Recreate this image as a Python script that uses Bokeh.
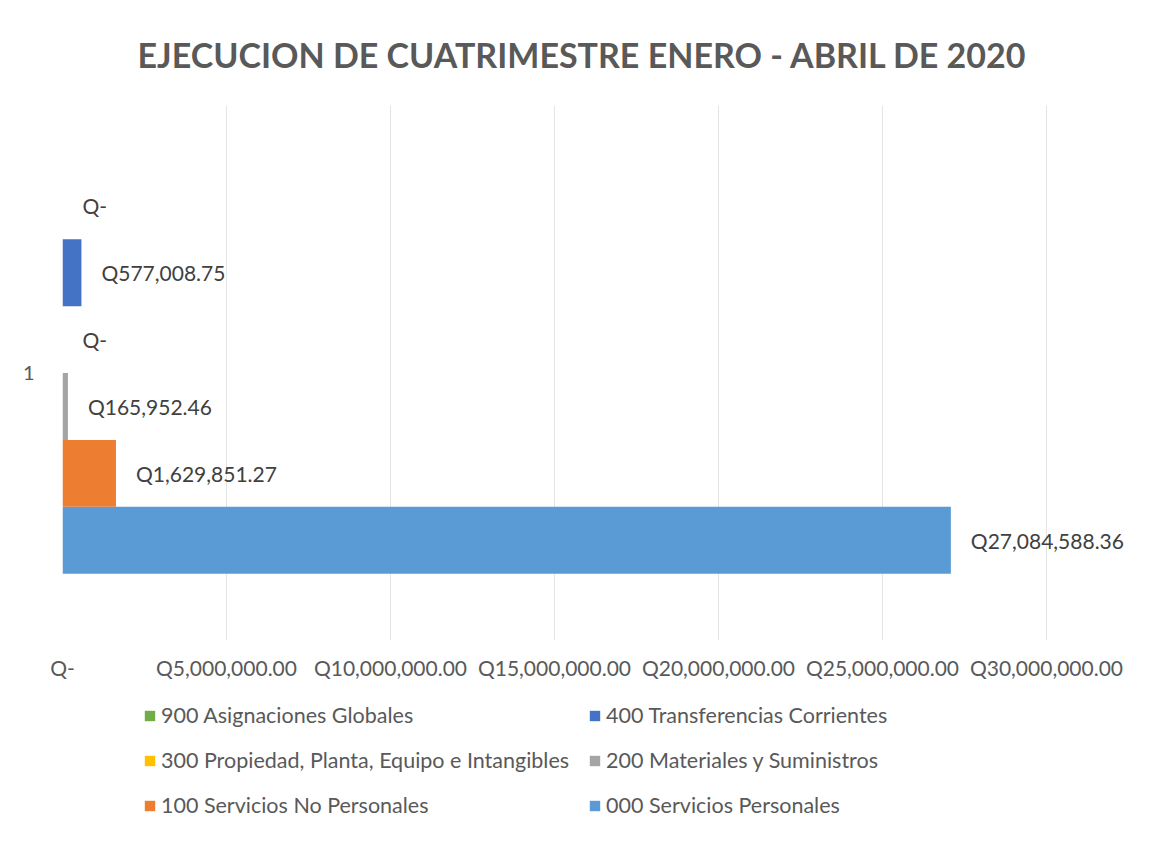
from bokeh.plotting import figure
from bokeh.models import (ColumnDataSource, FactorRange, FixedTicker, Legend, LegendItem,
                          Title, Range1d, LabelSet)
from bokeh.layouts import column
from bokeh.transform import dodge
from bokeh.core.properties import value
from bokeh.embed import file_html
from bokeh.resources import INLINE

title_text = "EJECUCION DE CUATRIMESTRE ENERO - ABRIL DE 2020"
category = ["1"]
series_names = ["000 Servicios Personales", "100 Servicios No Personales",
                "200 Materiales y Suministros", "300 Propiedad, Planta, Equipo e Intangibles",
                "400 Transferencias Corrientes", "900 Asignaciones Globales"]
series_values = [27084588.36, 1629851.27, 165952.46, 0.0, 577008.75, 0.0]
series_colors = ["#5B9BD5", "#ED7D31", "#A5A5A5", "#FFC000", "#4472C4", "#70AD47"]
x_ticks = [0, 5000000, 10000000, 15000000, 20000000, 25000000, 30000000]
x_tick_labels = ["Q-", "Q5,000,000.00", "Q10,000,000.00", "Q15,000,000.00",
                 "Q20,000,000.00", "Q25,000,000.00", "Q30,000,000.00"]
legend_order = [5, 4, 3, 2, 1, 0]

FONT = "Lato"

def fmt(v):
    return "Q-" if v == 0 else f"Q{v:,.2f}"

# frame: x=0 at px 62, 30M at px 1046; frame extends to px 1140 so the labels are not clipped
x_end = 30000000 * (1140 - 62) / 984.0
p = figure(frame_width=1078, frame_height=535, y_range=FactorRange(*category, range_padding=0),
           x_range=Range1d(0, x_end), output_backend="svg", toolbar_location=None,
           min_border_left=62, min_border_right=12, min_border_top=104,
           min_border_bottom=0, title=None)
p.outline_line_color = None
p.background_fill_color = "white"
p.border_fill_color = "white"

n = len(series_names)
slot = 0.125
renderers = []
for i in range(n):
    off = (i - (n - 1) / 2) * slot
    src = ColumnDataSource(dict(cat=category, v=[series_values[i]],
                                lbl=[fmt(series_values[i])]))
    r = p.hbar(y=dodge("cat", off, range=p.y_range), right="v", left=0, height=slot,
               source=src, fill_color=series_colors[i], line_color=None)
    renderers.append(r)
    ls = LabelSet(x="v", y=dodge("cat", off, range=p.y_range), text="lbl", source=src,
                  x_offset=20, text_baseline="middle", text_align="left",
                  text_font=value(FONT), text_font_size="21px", text_color="#404040")
    p.add_layout(ls)

t = Title(text=title_text, align="left", offset=75, text_font=FONT, text_font_size="34px",
          text_font_style="bold", text_color="#595959", standoff=62)
p.add_layout(t, "above")

p.xaxis.ticker = FixedTicker(ticks=x_ticks)
p.xaxis.major_label_overrides = {tk: lb for tk, lb in zip(x_ticks, x_tick_labels)}
p.xaxis.major_label_text_font = FONT
p.xaxis.major_label_text_font_size = "21px"
p.xaxis.major_label_text_color = "#595959"
p.xaxis.major_label_standoff = 8
p.xaxis.axis_line_color = None
p.xaxis.major_tick_line_color = None
p.xaxis.minor_tick_line_color = None

p.yaxis.major_label_text_font = FONT
p.yaxis.major_label_text_font_size = "20px"
p.yaxis.major_label_text_color = "#595959"
p.yaxis.major_label_standoff = 22
p.yaxis.axis_line_color = None
p.yaxis.major_tick_line_color = None

p.xgrid.grid_line_color = "#E4E4E4"
p.ygrid.grid_line_color = None

# legend panel below the chart (swatch renderers have zero length, only the legend shows)
lf = figure(width=1152, height=150, x_range=Range1d(0, 1), y_range=Range1d(0, 1),
            output_backend="svg", toolbar_location=None, min_border=0,
            title=None, x_axis_type=None, y_axis_type=None)
lf.outline_line_color = None
lf.grid.grid_line_color = None
lf.border_fill_color = "white"
leg_renderers = {}
for i in range(n):
    src = ColumnDataSource(dict(cat=[0.5], v=[0.0]))
    leg_renderers[i] = lf.hbar(y="cat", right="v", left=0, height=0.1, source=src,
                               fill_color=series_colors[i], line_color=None)
items = [LegendItem(label=series_names[i], renderers=[leg_renderers[i]]) for i in legend_order]
leg = Legend(items=items, orientation="horizontal", ncols=2, location=(81, 14),
             label_text_font=FONT, label_text_font_size="21.5px", label_text_color="#595959",
             glyph_width=13, glyph_height=13, label_standoff=5, spacing=19,
             label_height=22, border_line_color=None, background_fill_alpha=0,
             padding=0, margin=0)
lf.add_layout(leg, "center")

page = column(p, lf, spacing=0)
open("out.html", "w").write(file_html(page, INLINE))
